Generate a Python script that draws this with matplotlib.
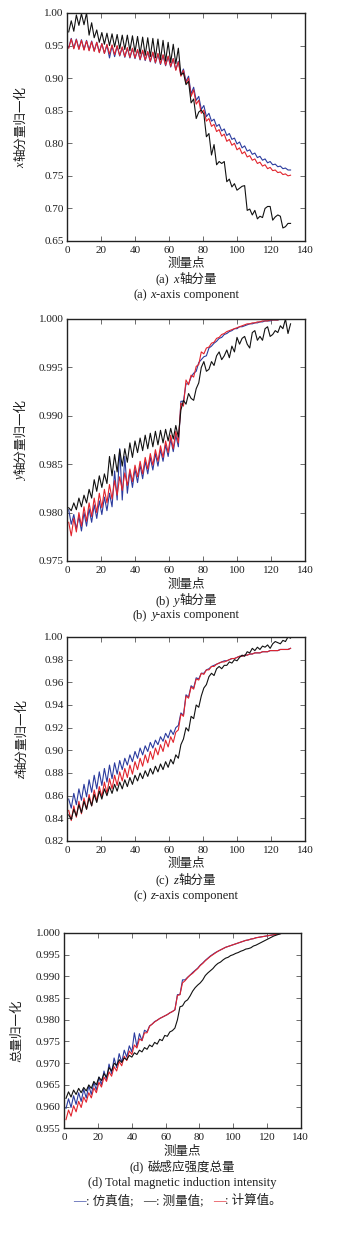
import numpy as np
import matplotlib
matplotlib.use("Agg")
import matplotlib.pyplot as plt
from matplotlib.text import Annotation
from matplotlib.ticker import MultipleLocator, FormatStrFormatter

# ---------------- data ----------------
points = np.arange(1, 133, 1.5)   # measurement point index

a_sim = [0.947, 0.961, 0.946, 0.960, 0.945, 0.959, 0.944, 0.958, 0.943, 0.957,
         0.942, 0.955, 0.940, 0.953, 0.938, 0.951, 0.931, 0.950, 0.933, 0.949,
         0.934, 0.947, 0.932, 0.946, 0.931, 0.945, 0.930, 0.943, 0.928, 0.942,
         0.927, 0.940, 0.925, 0.939, 0.923, 0.937, 0.921, 0.935, 0.919, 0.933,
         0.917, 0.930, 0.913, 0.926, 0.905, 0.914, 0.895, 0.903, 0.876, 0.886,
         0.866, 0.872, 0.852, 0.858, 0.841, 0.846, 0.834, 0.837, 0.826, 0.829,
         0.819, 0.822, 0.812, 0.815, 0.806, 0.808, 0.799, 0.802, 0.793, 0.796,
         0.788, 0.790, 0.783, 0.785, 0.778, 0.780, 0.774, 0.776, 0.770, 0.772,
         0.767, 0.768, 0.764, 0.765, 0.761, 0.762, 0.759, 0.759]
a_meas = [0.971, 0.988, 0.972, 0.997, 0.981, 0.999, 0.982, 1.000, 0.966, 0.985,
          0.962, 0.974, 0.955, 0.970, 0.952, 0.969, 0.950, 0.968, 0.948, 0.967,
          0.945, 0.966, 0.944, 0.966, 0.942, 0.965, 0.940, 0.964, 0.937, 0.963,
          0.935, 0.962, 0.933, 0.961, 0.931, 0.960, 0.928, 0.958, 0.926, 0.955,
          0.924, 0.952, 0.922, 0.946, 0.905, 0.908, 0.890, 0.895, 0.862, 0.868,
          0.838, 0.848, 0.851, 0.845, 0.810, 0.815, 0.782, 0.798, 0.767, 0.772,
          0.769, 0.772, 0.741, 0.745, 0.733, 0.738, 0.728, 0.731, 0.734, 0.735,
          0.697, 0.699, 0.690, 0.697, 0.684, 0.688, 0.686, 0.700, 0.703, 0.703,
          0.682, 0.687, 0.690, 0.688, 0.670, 0.672, 0.677, 0.677]
a_calc = [0.946, 0.960, 0.945, 0.959, 0.944, 0.958, 0.943, 0.957, 0.942, 0.956,
          0.941, 0.955, 0.939, 0.953, 0.938, 0.952, 0.937, 0.951, 0.936, 0.950,
          0.935, 0.948, 0.933, 0.947, 0.932, 0.946, 0.931, 0.944, 0.929, 0.943,
          0.928, 0.941, 0.926, 0.940, 0.924, 0.938, 0.922, 0.936, 0.920, 0.934,
          0.918, 0.930, 0.912, 0.925, 0.903, 0.912, 0.892, 0.900, 0.872, 0.882,
          0.860, 0.866, 0.846, 0.851, 0.834, 0.838, 0.826, 0.829, 0.818, 0.821,
          0.811, 0.814, 0.803, 0.806, 0.797, 0.800, 0.790, 0.793, 0.784, 0.787,
          0.779, 0.781, 0.774, 0.776, 0.769, 0.771, 0.765, 0.767, 0.761, 0.763,
          0.758, 0.759, 0.755, 0.756, 0.752, 0.753, 0.750, 0.751]

b_sim = [0.9803, 0.9788, 0.9798, 0.9783, 0.9796, 0.9781, 0.9800, 0.9786, 0.9804, 0.9790,
         0.9808, 0.9794, 0.9812, 0.9798, 0.9816, 0.9802, 0.9820, 0.9806, 0.9843, 0.9813,
         0.9866, 0.9813, 0.9858, 0.9820, 0.9843, 0.9826, 0.9845, 0.9831, 0.9849, 0.9835,
         0.9853, 0.9840, 0.9857, 0.9844, 0.9861, 0.9848, 0.9865, 0.9853, 0.9870, 0.9858,
         0.9876, 0.9863, 0.9880, 0.9868, 0.9915, 0.9915, 0.9933, 0.9933, 0.9940, 0.9944,
         0.9946, 0.9955, 0.9958, 0.9961, 0.9962, 0.9970, 0.9972, 0.9975, 0.9977, 0.9980,
         0.9981, 0.9984, 0.9985, 0.9987, 0.9988, 0.9990, 0.9990, 0.9992, 0.9992, 0.9993,
         0.9994, 0.9995, 0.9995, 0.9996, 0.9996, 0.9997, 0.9997, 0.9998, 0.9998, 0.9998,
         0.9999, 0.9999, 0.9999, 1.0000, 1.0000, 1.0000, 1.0000, 1.0000]
b_meas = [0.9805, 0.9802, 0.9810, 0.9803, 0.9815, 0.9806, 0.9818, 0.9810, 0.9824, 0.9815,
          0.9834, 0.9822, 0.9838, 0.9826, 0.9840, 0.9830, 0.9858, 0.9838, 0.9860, 0.9842,
          0.9865, 0.9848, 0.9866, 0.9852, 0.9872, 0.9857, 0.9874, 0.9862, 0.9877, 0.9864,
          0.9880, 0.9866, 0.9882, 0.9868, 0.9884, 0.9870, 0.9885, 0.9872, 0.9886, 0.9874,
          0.9887, 0.9876, 0.9890, 0.9878, 0.9906, 0.9916, 0.9912, 0.9923, 0.9918, 0.9916,
          0.9928, 0.9934, 0.9950, 0.9956, 0.9946, 0.9948, 0.9956, 0.9952, 0.9962, 0.9966,
          0.9958, 0.9962, 0.9968, 0.9960, 0.9972, 0.9966, 0.9981, 0.9974, 0.9980, 0.9982,
          0.9974, 0.9970, 0.9986, 0.9988, 0.9978, 0.9982, 0.9978, 0.9990, 0.9992, 0.9982,
          0.9984, 0.9988, 0.9986, 0.9993, 0.9990, 1.0000, 0.9985, 0.9995]
b_calc = [0.9790, 0.9776, 0.9794, 0.9780, 0.9800, 0.9786, 0.9806, 0.9791, 0.9810, 0.9796,
          0.9815, 0.9800, 0.9820, 0.9805, 0.9824, 0.9810, 0.9829, 0.9814, 0.9833, 0.9818,
          0.9837, 0.9823, 0.9841, 0.9828, 0.9845, 0.9832, 0.9849, 0.9837, 0.9853, 0.9840,
          0.9857, 0.9845, 0.9861, 0.9849, 0.9865, 0.9853, 0.9869, 0.9857, 0.9874, 0.9862,
          0.9880, 0.9866, 0.9884, 0.9872, 0.9913, 0.9910, 0.9937, 0.9932, 0.9942, 0.9940,
          0.9951, 0.9953, 0.9966, 0.9964, 0.9970, 0.9971, 0.9975, 0.9976, 0.9980, 0.9981,
          0.9984, 0.9985, 0.9987, 0.9988, 0.9989, 0.9990, 0.9991, 0.9992, 0.9993, 0.9994,
          0.9995, 0.9995, 0.9996, 0.9996, 0.9997, 0.9997, 0.9998, 0.9998, 0.9998, 0.9999,
          0.9999, 0.9999, 0.9999, 1.0000, 1.0000, 1.0000, 1.0000, 1.0000]

c_sim = [0.857, 0.849, 0.862, 0.852, 0.866, 0.856, 0.870, 0.859, 0.874, 0.863,
         0.878, 0.866, 0.881, 0.869, 0.884, 0.872, 0.887, 0.875, 0.889, 0.879,
         0.891, 0.883, 0.893, 0.887, 0.896, 0.890, 0.899, 0.893, 0.902, 0.896,
         0.904, 0.899, 0.907, 0.902, 0.909, 0.905, 0.912, 0.908, 0.915, 0.911,
         0.918, 0.914, 0.920, 0.922, 0.933, 0.931, 0.949, 0.947, 0.957, 0.955,
         0.964, 0.963, 0.968, 0.968, 0.971, 0.972, 0.974, 0.975, 0.976, 0.977,
         0.978, 0.979, 0.979, 0.980, 0.981, 0.981, 0.982, 0.983, 0.983, 0.984,
         0.984, 0.985, 0.985, 0.986, 0.986, 0.986, 0.987, 0.987, 0.987, 0.988,
         0.988, 0.988, 0.988, 0.989, 0.989, 0.989, 0.989, 0.990]
c_meas = [0.843, 0.839, 0.848, 0.842, 0.852, 0.845, 0.855, 0.848, 0.858, 0.851,
          0.861, 0.854, 0.864, 0.857, 0.866, 0.860, 0.868, 0.862, 0.870, 0.864,
          0.872, 0.866, 0.874, 0.868, 0.876, 0.870, 0.878, 0.873, 0.880, 0.875,
          0.882, 0.877, 0.884, 0.879, 0.886, 0.881, 0.888, 0.883, 0.890, 0.885,
          0.892, 0.888, 0.896, 0.893, 0.905, 0.910, 0.920, 0.917, 0.930, 0.928,
          0.940, 0.938, 0.948, 0.955, 0.958, 0.965, 0.968, 0.966, 0.972, 0.974,
          0.972, 0.975, 0.975, 0.978, 0.977, 0.980, 0.979, 0.982, 0.984, 0.983,
          0.987, 0.986, 0.990, 0.988, 0.991, 0.989, 0.992, 0.991, 0.993, 0.990,
          0.994, 0.996, 0.995, 0.994, 0.997, 0.996, 1.000, 0.999]
c_calc = [0.847, 0.838, 0.851, 0.841, 0.855, 0.844, 0.858, 0.848, 0.861, 0.851,
          0.865, 0.855, 0.868, 0.859, 0.872, 0.862, 0.875, 0.866, 0.878, 0.869,
          0.881, 0.873, 0.884, 0.876, 0.887, 0.879, 0.890, 0.883, 0.893, 0.886,
          0.896, 0.889, 0.899, 0.892, 0.902, 0.896, 0.905, 0.899, 0.909, 0.903,
          0.912, 0.907, 0.916, 0.918, 0.932, 0.930, 0.948, 0.946, 0.956, 0.954,
          0.963, 0.962, 0.968, 0.967, 0.971, 0.971, 0.974, 0.974, 0.976, 0.977,
          0.978, 0.978, 0.979, 0.980, 0.981, 0.981, 0.982, 0.983, 0.983, 0.984,
          0.984, 0.985, 0.985, 0.986, 0.986, 0.986, 0.987, 0.987, 0.987, 0.988,
          0.988, 0.988, 0.988, 0.989, 0.989, 0.989, 0.989, 0.990]

d_sim = [0.9596, 0.9618, 0.9598, 0.9625, 0.9605, 0.9632, 0.9612, 0.9640, 0.9620, 0.9648,
         0.9628, 0.9656, 0.9638, 0.9668, 0.9650, 0.9682, 0.9662, 0.9698, 0.9676, 0.9712,
         0.9690, 0.9722, 0.9702, 0.9730, 0.9714, 0.9740, 0.9726, 0.9770, 0.9738, 0.9768,
         0.9752, 0.9776, 0.9772, 0.9786, 0.9790, 0.9796, 0.9799, 0.9803, 0.9806, 0.9809,
         0.9812, 0.9816, 0.9819, 0.9823, 0.9858, 0.9858, 0.9892, 0.9892, 0.9898, 0.9903,
         0.9909, 0.9914, 0.9919, 0.9926, 0.9931, 0.9937, 0.9942, 0.9947, 0.9951, 0.9955,
         0.9958, 0.9961, 0.9964, 0.9967, 0.9969, 0.9971, 0.9973, 0.9975, 0.9977, 0.9979,
         0.9981, 0.9983, 0.9984, 0.9986, 0.9987, 0.9989, 0.9990, 0.9991, 0.9992, 0.9993,
         0.9994, 0.9995, 0.9996, 0.9997, 0.9998, 0.9999, 1.0000, 1.0000]
d_meas = [0.9619, 0.9634, 0.9622, 0.9638, 0.9628, 0.9642, 0.9632, 0.9644, 0.9636, 0.9650,
          0.9642, 0.9658, 0.9650, 0.9668, 0.9660, 0.9676, 0.9668, 0.9690, 0.9682, 0.9700,
          0.9695, 0.9708, 0.9702, 0.9712, 0.9708, 0.9718, 0.9714, 0.9724, 0.9720, 0.9730,
          0.9726, 0.9736, 0.9732, 0.9742, 0.9738, 0.9748, 0.9744, 0.9755, 0.9752, 0.9764,
          0.9762, 0.9772, 0.9775, 0.9781, 0.9800, 0.9830, 0.9832, 0.9842, 0.9846, 0.9855,
          0.9866, 0.9874, 0.9880, 0.9885, 0.9892, 0.9902, 0.9908, 0.9913, 0.9918, 0.9925,
          0.9930, 0.9933, 0.9938, 0.9942, 0.9944, 0.9948, 0.9950, 0.9953, 0.9955, 0.9958,
          0.9960, 0.9963, 0.9964, 0.9966, 0.9970, 0.9972, 0.9975, 0.9978, 0.9981, 0.9984,
          0.9987, 0.9990, 0.9993, 0.9995, 0.9997, 0.9999, 1.0000, 1.0000]
d_calc = [0.9570, 0.9592, 0.9578, 0.9602, 0.9588, 0.9612, 0.9598, 0.9622, 0.9610, 0.9632,
          0.9620, 0.9643, 0.9632, 0.9656, 0.9645, 0.9668, 0.9658, 0.9680, 0.9670, 0.9692,
          0.9682, 0.9704, 0.9694, 0.9716, 0.9706, 0.9728, 0.9720, 0.9742, 0.9735, 0.9756,
          0.9752, 0.9770, 0.9770, 0.9785, 0.9790, 0.9795, 0.9799, 0.9803, 0.9806, 0.9809,
          0.9812, 0.9816, 0.9819, 0.9823, 0.9856, 0.9858, 0.9885, 0.9890, 0.9897, 0.9903,
          0.9907, 0.9913, 0.9918, 0.9925, 0.9930, 0.9936, 0.9941, 0.9946, 0.9950, 0.9954,
          0.9958, 0.9961, 0.9964, 0.9967, 0.9969, 0.9971, 0.9973, 0.9975, 0.9977, 0.9979,
          0.9981, 0.9983, 0.9984, 0.9986, 0.9987, 0.9989, 0.9990, 0.9991, 0.9992, 0.9993,
          0.9994, 0.9995, 0.9996, 0.9997, 0.9998, 0.9999, 1.0000, 1.0000]

x_ticks = [0, 20, 40, 60, 80, 100, 120, 140]
x_label = "测量点"
legend_names = ["仿真值", "测量值", "计算值"]

# ---------------- styling ----------------
W, H = 342, 1248
MIX = ["Liberation Serif", "Noto Sans CJK SC"]
plt.rcParams["font.family"] = MIX
TXT = "#1e1e1e"
BLUE = "#2b3b9e"
RED = "#e1242d"
BLACK = "#111111"
LW = 0.8

fig = plt.figure(figsize=(W / 100, H / 100), dpi=100)

def px_box(l, t, r, b):
    return [l / W, 1 - b / H, (r - l) / W, (b - t) / H]

panels = [
    dict(box=(67, 13, 305, 241), sim=a_sim, meas=a_meas, calc=a_calc,
         ylim=(0.65, 1.0), ystep=0.05, fmt="%.2f"),
    dict(box=(67, 319, 305, 561), sim=b_sim, meas=b_meas, calc=b_calc,
         ylim=(0.975, 1.0), ystep=0.005, fmt="%.3f"),
    dict(box=(67, 637, 305, 841), sim=c_sim, meas=c_meas, calc=c_calc,
         ylim=(0.82, 1.0), ystep=0.02, fmt="%.2f"),
    dict(box=(64.3, 933, 300.7, 1128.3), sim=d_sim, meas=d_meas, calc=d_calc,
         ylim=(0.955, 1.0), ystep=0.005, fmt="%.3f"),
]

for p in panels:
    for k in ("sim", "meas", "calc"):
        assert len(p[k]) == len(points), (k, len(p[k]))
    ax = fig.add_axes(px_box(*p["box"]))
    ax.plot(points, p["sim"], color=BLUE, lw=LW)
    ax.plot(points, p["calc"], color=RED, lw=LW)
    ax.plot(points, p["meas"], color=BLACK, lw=LW)
    ax.set_xlim(0, 140)
    ax.set_ylim(*p["ylim"])
    ax.set_xticks(x_ticks)
    ax.yaxis.set_major_locator(MultipleLocator(p["ystep"]))
    ax.yaxis.set_major_formatter(FormatStrFormatter(p["fmt"]))
    ax.tick_params(direction="in", length=3.5, width=0.6, color="#555555",
                   top=True, right=True, labelsize=8, labelcolor=TXT)
    ax.tick_params(axis="x", pad=3.5)
    ax.tick_params(axis="y", pad=2.5)
    for s in ax.spines.values():
        s.set_linewidth(1.0)
        s.set_color("#222222")

# ---------------- chained text (mixed fonts / italics) ----------------
chains = []

def chain(cx, cy, pieces, fs=9, rot=False):
    prev = None
    arts = []
    for s, kw, gap in pieces:
        props = dict(fontsize=fs, color=TXT, family=MIX)
        props.update(kw)
        if prev is None:
            if rot:
                t = fig.text(cx / W, 1 - cy / H, s, rotation=90, ha="right", va="bottom", **props)
            else:
                t = fig.text(cx / W, 1 - cy / H, s, ha="left", va="bottom", **props)
        else:
            if rot:
                t = Annotation(s, xy=(1, 1), xycoords=prev, xytext=(0, gap),
                               textcoords="offset points", rotation=90,
                               ha="right", va="bottom", **props)
            else:
                t = Annotation(s, xy=(1, 0), xycoords=prev, xytext=(gap, 0),
                               textcoords="offset points", ha="left", va="bottom", **props)
            fig.add_artist(t)
        arts.append(t)
        prev = t
    chains.append((cx, cy, arts))

IT = dict(style="italic")
N = {}

captions = [
    # (xlabel y, cn caption y, en caption y, x centre, letter, axis letter, cn rest, en rest)
    (264, 280, 295, 186, "(a)", "x"),
    (585, 600.7, 615, 186, "(b)", "y"),
    (864, 881, 896, 186, "(c)", "z"),
]
for ylab, ycn, yen, xc, letter, axl in captions:
    chain(xc, ylab, [(x_label, N, 0)])
    chain(xc, ycn, [(letter, N, 0), (axl, IT, 2.6), ("轴分量", N, 0.6)])
    chain(xc, yen, [(letter, N, 0), (axl, IT, 2.4), ("-axis component", N, 0)])

chain(182.5, 1151.7, [(x_label, N, 0)])
chain(182.5, 1167.3, [("(d)", N, 0), ("磁感应强度总量", N, 2.6)])
chain(182.5, 1183.3, [("(d) Total magnetic induction intensity", N, 0)])

# y labels
chain(21, 127, [("x", IT, 0), ("轴分量归一化", N, 0.5)], rot=True)
chain(21, 440, [("y", IT, 0), ("轴分量归一化", N, 0.5)], rot=True)
chain(22, 739, [("z", IT, 0), ("轴分量归一化", N, 0.5)], rot=True)
chain(17, 1031, [("总量归一化", N, 0)], rot=True)

# legend line
chain(177.7, 1201, [
    ("—", dict(color=BLUE), 0), (": " + legend_names[0] + ";", N, 0),
    ("—", dict(color=BLACK), 7), (": " + legend_names[1] + ";", N, 0),
    ("—", dict(color=RED), 7), (": " + legend_names[2] + "。", N, 0),
])

fig.canvas.draw()
r = fig.canvas.get_renderer()
for cx, cy, arts in chains:
    bbs = [a.get_window_extent(r) for a in arts]
    x0 = min(b.x0 for b in bbs); x1 = max(b.x1 for b in bbs)
    y0 = min(b.y0 for b in bbs); y1 = max(b.y1 for b in bbs)
    dx = cx - (x0 + x1) / 2
    dy = (H - cy) - (y0 + y1) / 2
    fx, fy = arts[0].get_position()
    arts[0].set_position((fx + dx / W, fy + dy / H))

fig.savefig("out.png", dpi=100, facecolor="white")
